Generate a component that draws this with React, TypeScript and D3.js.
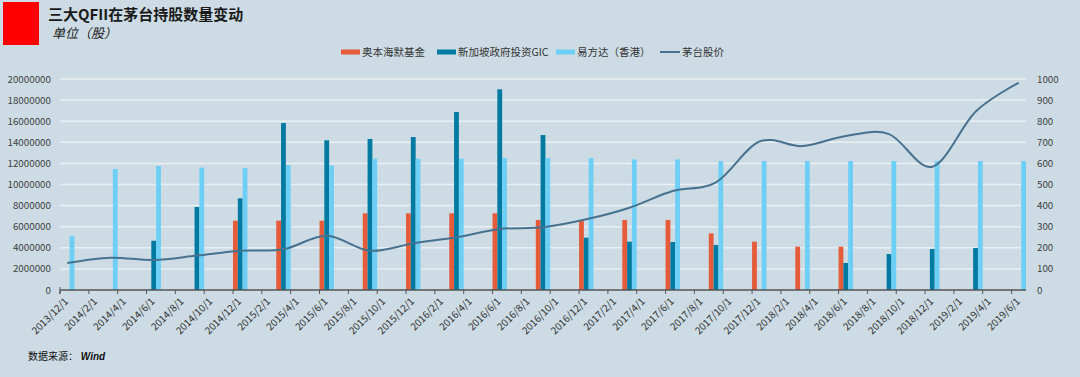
import React from "react";
import * as d3 from "d3";

const quarterDates = ["2013/12/1","2014/3/1","2014/6/1","2014/9/1","2014/12/1","2015/3/1","2015/6/1","2015/9/1","2015/12/1","2016/3/1","2016/6/1","2016/9/1","2016/12/1","2017/3/1","2017/6/1","2017/9/1","2017/12/1","2018/3/1","2018/6/1","2018/9/1","2018/12/1","2019/3/1","2019/6/1"];
const oppenheimer = [null,null,null,null,6570000,6570000,6570000,7270000,7270000,7270000,7270000,6640000,6640000,6640000,6640000,5370000,4580000,4110000,4110000,null,null,null,null];
const gic = [null,null,4670000,7870000,8690000,15830000,14190000,14310000,14500000,16870000,19020000,14690000,4960000,4580000,4550000,4270000,null,null,2560000,3410000,3890000,3980000,null];
const efund = [5120000,11470000,11750000,11600000,11560000,11850000,11800000,12450000,12450000,12450000,12510000,12510000,12510000,12380000,12380000,12220000,12220000,12220000,12220000,12220000,12220000,12220000,12220000];
const price = [128,153,142,163,186,193,257,186,221,250,289,297,335,390,469,510,703,682,730,739,584,845,982];

const seriesNames = ["奥本海默基金","新加坡政府投资GIC","易方达（香港）","茅台股价"];
const colors = ["#E65B3A","#007AA0","#6DCFF6","#46728F"];
const leftTicks = [0,2000000,4000000,6000000,8000000,10000000,12000000,14000000,16000000,18000000,20000000];
const rightTicks = [0,100,200,300,400,500,600,700,800,900,1000];

const parse = (s: string) => { const [y,m] = s.split("/").map(Number); return new Date(Date.UTC(y, m-1, 1)); };
const fmt = (d: Date) => `${d.getUTCFullYear()}/${d.getUTCMonth()+1}/1`;
const months = d3.utcMonth.range(parse("2013/12/1"), parse("2019/7/1")).map(fmt);
const labelMonths = months.filter((_, i) => i % 2 === 0);

const FONT = "'Noto Sans CJK SC', 'Noto Sans', sans-serif";

export default function App() {
  const L = 60, R = 1026, T = 79, B = 290;
  const x = d3.scaleBand<string>().domain(months).range([L, R]).padding(0);
  const inner = d3.scaleBand<number>().domain([0,1,2]).range([0, x.bandwidth()]).padding(0);
  const yL = d3.scaleLinear().domain([0, 20000000]).range([B, T]);
  const yR = d3.scaleLinear().domain([0, 1000]).range([B, T]);
  const bars = [oppenheimer, gic, efund];
  const line = d3.line<number>()
    .x((_, i) => (x(quarterDates[i]) as number) + x.bandwidth() / 2)
    .y(d => yR(d))
    .curve(d3.curveCardinal.tension(0));

  return (
    <svg width={1080} height={377} style={{ position: "absolute", left: 0, top: 0 }} fontFamily={FONT}>
      <rect x={0} y={0} width={1080} height={377} fill="#CDDCE4" />
      <rect x={3} y={2} width={36} height={43} fill="#FF0000" />
      <text x={48} y={20} fontSize={15} fontWeight="bold" fill="#1a1a1a">三大QFII在茅台持股数量变动</text>
      <text x={52} y={38} fontSize={13} fontStyle="italic" fill="#222">单位（股）</text>

      {/* legend */}
      {[341, 437, 556].map((lx, i) => (
        <g key={i}>
          <rect x={lx} y={49.5} width={19} height={5} fill={colors[i]} />
          <text x={lx + 21} y={56} fontSize={10.5} fill="#333">{seriesNames[i]}</text>
        </g>
      ))}
      <line x1={660} x2={680} y1={52} y2={52} stroke={colors[3]} strokeWidth={2} />
      <text x={682} y={56} fontSize={10.5} fill="#333">{seriesNames[3]}</text>

      {/* gridlines */}
      {leftTicks.slice(1).map(t => (
        <line key={t} x1={L} x2={R} y1={yL(t)} y2={yL(t)} stroke="#E9EFF2" strokeWidth={1.5} />
      ))}

      {/* bars */}
      {bars.map((s, si) => s.map((v, i) => v == null ? null : (
        <rect key={`${si}-${i}`} x={(x(quarterDates[i]) as number) + (inner(si) as number)} y={yL(v)}
          width={inner.bandwidth()} height={B - yL(v)} fill={colors[si]} />
      )))}

      {/* line */}
      <path d={line(price) || ""} fill="none" stroke={colors[3]} strokeWidth={2} />

      {/* x axis */}
      <line x1={L} x2={R} y1={B} y2={B} stroke="#555" strokeWidth={1.5} />
      {labelMonths.map(m => {
        const px = x(m) as number;
        return (
          <g key={m}>
            <line x1={px} x2={px} y1={B} y2={B + 4} stroke="#555" strokeWidth={1} />
            <text transform={`translate(${px + 9},${B + 12}) rotate(-45)`} textAnchor="end" fontSize={10} fill="#333">{m}</text>
          </g>
        );
      })}
      <line x1={L} x2={L} y1={B - 3} y2={B + 4} stroke="#555" strokeWidth={1} />

      {/* left axis labels */}
      {leftTicks.map(t => (
        <text key={t} x={51} y={yL(t) + 3.5} textAnchor="end" fontSize={9.8} fill="#404040">{t}</text>
      ))}
      {/* right axis labels */}
      {rightTicks.map(t => (
        <text key={t} x={1037} y={yR(t) + 3.5} textAnchor="start" fontSize={9.8} fill="#404040">{t}</text>
      ))}

      <text x={28} y={360} fontSize={10} fill="#111">数据来源：<tspan fontWeight="bold" fontStyle="italic" fontFamily="'Liberation Sans', Arial, sans-serif"> Wind</tspan></text>
    </svg>
  );
}
